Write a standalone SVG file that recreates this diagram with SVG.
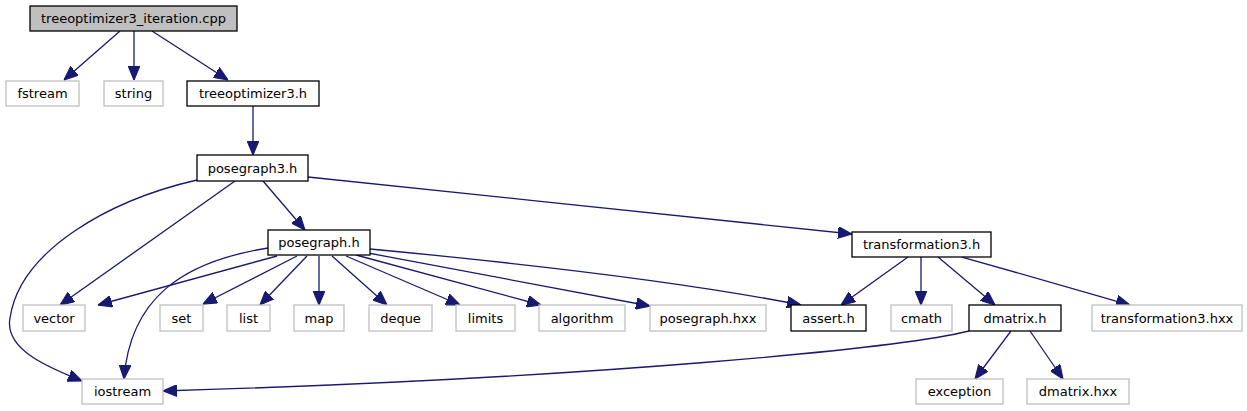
<svg xmlns="http://www.w3.org/2000/svg" width="1247" height="411" viewBox="0 0 1247 411">
<style>
.n rect{fill:#fff;stroke:#bfbfbf;stroke-width:1.3}
.b rect{fill:#fff;stroke:#000;stroke-width:1.3}
.r rect{fill:#bfbfbf;stroke:#000;stroke-width:1.3}
text{font-family:"DejaVu Sans",sans-serif;font-size:13px;fill:#000;text-anchor:middle}
#edges path{fill:none;stroke:#191970;stroke-width:1.3;marker-end:url(#a)}
</style>
<defs>
<marker id="a" markerUnits="userSpaceOnUse" markerWidth="14" markerHeight="12" viewBox="0 0 12 10" refX="12" refY="5" orient="auto">
<path d="M0,0 L12,5 L0,10 Z" fill="#191970" stroke="#191970"/>
</marker>
</defs>
<g id="edges">
<path d="M120,31 L64,80"/>
<path d="M134,31 L134,80"/>
<path d="M152,31 L228,80"/>
<path d="M253,106 L253,155"/>
<path d="M197,180 C110,200 20,250 10,318 C4,350 50,368 82,381"/>
<path d="M235,181 L60,305"/>
<path d="M263,181 L305,230"/>
<path d="M308,177 C480,195 700,218 852,234"/>
<path d="M277,256 L98,305"/>
<path d="M268,248 C180,262 130,300 124,379"/>
<path d="M297,256 L203,304"/>
<path d="M307,256 L260,305"/>
<path d="M319,256 L319,305"/>
<path d="M332,256 L387,305"/>
<path d="M346,256 L460,305"/>
<path d="M356,255 L541,305"/>
<path d="M368,253 L650,306"/>
<path d="M370,249 C540,265 700,285 801,305"/>
<path d="M908,257 L841,305"/>
<path d="M921,257 L921,305"/>
<path d="M938,257 L995,305"/>
<path d="M962,257 L1130,305"/>
<path d="M969,331 C900,348 600,378 163,391"/>
<path d="M1011,331 L975,379"/>
<path d="M1030,331 L1063,379"/>
</g>
<g id="root" class="r"><rect x="30" y="6" width="207" height="25"/><text x="133.5" y="23">treeoptimizer3_iteration.cpp</text></g>
<g id="fstream" class="n"><rect x="6" y="81" width="73" height="25"/><text x="42.5" y="98">fstream</text></g>
<g id="string" class="n"><rect x="104" y="81" width="59" height="25"/><text x="133.5" y="98">string</text></g>
<g id="treeoptimizer3_h" class="b"><rect x="187" y="81" width="132" height="25"/><text x="253" y="98">treeoptimizer3.h</text></g>
<g id="posegraph3_h" class="b"><rect x="197" y="155" width="111" height="26"/><text x="252.5" y="172.5">posegraph3.h</text></g>
<g id="posegraph_h" class="b"><rect x="268" y="230" width="102" height="25"/><text x="319" y="247">posegraph.h</text></g>
<g id="transformation3_h" class="b"><rect x="852" y="232" width="139" height="25"/><text x="921.5" y="249">transformation3.h</text></g>
<g id="vector" class="n"><rect x="23" y="305" width="62" height="26"/><text x="54" y="322.5">vector</text></g>
<g id="set" class="n"><rect x="160" y="305" width="43" height="26"/><text x="181.5" y="322.5">set</text></g>
<g id="list" class="n"><rect x="227" y="305" width="43" height="26"/><text x="248.5" y="322.5">list</text></g>
<g id="map" class="n"><rect x="294" y="305" width="50" height="26"/><text x="319" y="322.5">map</text></g>
<g id="deque" class="n"><rect x="369" y="305" width="63" height="26"/><text x="400.5" y="322.5">deque</text></g>
<g id="limits" class="n"><rect x="456" y="305" width="59" height="26"/><text x="485.5" y="322.5">limits</text></g>
<g id="algorithm" class="n"><rect x="539" y="305" width="86" height="26"/><text x="582" y="322.5">algorithm</text></g>
<g id="posegraph_hxx" class="n"><rect x="650" y="305" width="116" height="26"/><text x="708" y="322.5">posegraph.hxx</text></g>
<g id="assert_h" class="b"><rect x="791" y="305" width="75" height="26"/><text x="828.5" y="322.5">assert.h</text></g>
<g id="cmath" class="n"><rect x="891" y="305" width="61" height="26"/><text x="921.5" y="322.5">cmath</text></g>
<g id="dmatrix_h" class="b"><rect x="969" y="305" width="92" height="26"/><text x="1015" y="322.5">dmatrix.h</text></g>
<g id="transformation3_hxx" class="n"><rect x="1092" y="305" width="150" height="26"/><text x="1167" y="322.5">transformation3.hxx</text></g>
<g id="iostream" class="n"><rect x="82" y="379" width="81" height="25"/><text x="122.5" y="396">iostream</text></g>
<g id="exception" class="n"><rect x="916" y="379" width="87" height="25"/><text x="959.5" y="396">exception</text></g>
<g id="dmatrix_hxx" class="n"><rect x="1027" y="379" width="102" height="25"/><text x="1078" y="396">dmatrix.hxx</text></g>
</svg>
